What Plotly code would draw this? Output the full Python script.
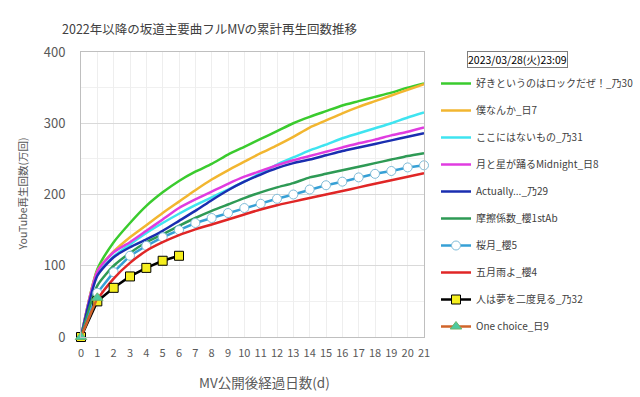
import plotly.graph_objects as go

days = list(range(22))

names = [
    "好きというのはロックだぜ！_乃30",
    "僕なんか_日7",
    "ここにはないもの_乃31",
    "月と星が踊るMidnight_日8",
    "Actually..._乃29",
    "摩擦係数_櫻1stAb",
    "桜月_櫻5",
    "五月雨よ_櫻4",
    "人は夢を二度見る_乃32",
    "One choice_日9",
]

suki = [0, 95, 133, 160, 184, 203, 219, 232, 243, 256, 267, 278, 289, 300, 309, 317, 325, 331, 337, 343, 350, 356]
bokunanka = [0, 93, 120, 140, 157, 174, 190, 206, 221, 234, 246, 258, 269, 281, 294, 304, 314, 323, 331, 339, 347, 355]
kokoni = [0, 88, 113, 130, 146, 160, 173, 185, 196, 207, 218, 230, 242, 252, 262, 270, 279, 286, 293, 300, 308, 315]
tsuki = [0, 92, 119, 133, 149, 165, 181, 193, 204, 215, 225, 233, 241, 248, 254, 260, 266, 272, 277, 283, 288, 294]
actually = [0, 86, 112, 126, 137, 149, 163, 177, 192, 206, 218, 228, 237, 244, 249, 255, 261, 266, 271, 276, 281, 286]
masatsu = [0, 72, 100, 118, 133, 144, 156, 167, 177, 186, 195, 203, 210, 216, 224, 229, 234, 239, 244, 249, 254, 258]
sakurazuki = [0, 62, 91, 114, 128, 140, 150, 160, 167, 174, 181, 187, 194, 200, 207, 213, 218, 224, 229, 233, 238, 241]
samidare = [0, 52, 82, 104, 121, 133, 143, 151, 158, 165, 172, 179, 185, 190, 195, 200, 205, 210, 215, 220, 225, 230]
hitoha = [0, 50, 69, 85, 97, 107, 114]
onechoice = [0, 55]

y_ticks = [0, 100, 200, 300, 400]
x_ticks = days

title_text = "2022年以降の坂道主要曲フルMVの累計再生回数推移"
date_text = "2023/03/28(火)23:09"
x_title = "MV公開後経過日数(d)"
y_title = "YouTube再生回数(万回)"

FONT = "Noto Sans CJK JP"

fig = go.Figure()

smooth = [
    (suki, "#3acb2e"),
    (bokunanka, "#f2b630"),
    (kokoni, "#3fe4f0"),
    (tsuki, "#e03ce0"),
    (actually, "#1a2eb0"),
    (masatsu, "#2e9a55"),
]
for i, (vals, col) in enumerate(smooth):
    fig.add_trace(go.Scatter(
        x=days[:len(vals)], y=vals, name=names[i], mode="lines",
        line=dict(color=col, width=2.5, shape="spline", smoothing=0.6),
        legendgroup=str(i), cliponaxis=False,
    ))

fig.add_trace(go.Scatter(
    x=days[:len(sakurazuki)], y=sakurazuki, name=names[6], mode="lines+markers",
    line=dict(color="#36a0d6", width=2.5),
    marker=dict(symbol="circle", size=9, color="white", line=dict(color="#80bcd8", width=1)),
    legendgroup="6", cliponaxis=False,
))
fig.add_trace(go.Scatter(
    x=days[:len(samidare)], y=samidare, name=names[7], mode="lines",
    line=dict(color="#e02626", width=2.5, shape="spline", smoothing=0.6),
    legendgroup="7", cliponaxis=False,
))
fig.add_trace(go.Scatter(
    x=days[:len(hitoha)], y=hitoha, name=names[8], mode="lines+markers",
    line=dict(color="#000000", width=2.5),
    marker=dict(symbol="square", size=9, color="#f5ee1e", line=dict(color="#000000", width=1)),
    legendgroup="8", cliponaxis=False,
))
fig.add_trace(go.Scatter(
    x=days[:len(onechoice)], y=onechoice, name=names[9], mode="lines+markers",
    line=dict(color="#d0642a", width=2.5),
    marker=dict(symbol="triangle-up", size=10, color="#4ccaa0", line=dict(color="#6cb46c", width=1)),
    legendgroup="9", cliponaxis=False,
))

fig.update_layout(
    width=640, height=397,
    margin=dict(l=81, r=216, t=52, b=60, autoexpand=False),
    paper_bgcolor="white", plot_bgcolor="white",
    font=dict(family=FONT, color="#595959"),
    showlegend=True,
    legend=dict(
        xref="container", yref="container", x=436 / 640, y=1 - 69 / 397,
        xanchor="left", yanchor="top",
        font=dict(size=10, color="#404040", family=FONT),
        tracegroupgap=8, itemwidth=30, bgcolor="rgba(0,0,0,0)",
        maxheight=330,
    ),
    xaxis=dict(
        range=[0, 21], tickvals=x_ticks, ticktext=[str(v) for v in x_ticks],
        showgrid=True, gridcolor="#eeeeee", gridwidth=1,
        showline=True, linecolor="#bfbfbf", linewidth=1, mirror=True,
        zeroline=False, ticks="", tickfont=dict(size=11, color="#595959"),
        ticklabelstandoff=6,
    ),
    yaxis=dict(
        range=[0, 400], tickvals=y_ticks,
        showgrid=True, gridcolor="#d9d9d9", gridwidth=1,
        minor=dict(dtick=50, showgrid=True, gridcolor="#f0f0f0"),
        showline=True, linecolor="#bfbfbf", linewidth=1, mirror=True,
        zeroline=False, ticks="", tickfont=dict(size=13, color="#595959"),
        ticklabelstandoff=12,
    ),
    annotations=[
        dict(text=title_text, xref="paper", yref="paper", x=(210 - 81) / 343, y=1 + (52 - 29) / 285,
             showarrow=False, xanchor="center", yanchor="middle",
             font=dict(size=12.5, color="#404040", family=FONT)),
        dict(text=date_text, xref="paper", yref="paper", x=(517 - 81) / 343, y=1 - (60 - 52) / 285,
             showarrow=False, xanchor="center", yanchor="middle",
             font=dict(size=10.5, color="#000000", family=FONT),
             bordercolor="#7f7f7f", borderwidth=1, borderpad=0, bgcolor="white"),
        dict(text=x_title, xref="paper", yref="paper", x=(264 - 81) / 343, y=-(381 - 336) / 285,
             showarrow=False, xanchor="center", yanchor="middle",
             font=dict(size=13.5, color="#595959", family=FONT)),
        dict(text=y_title, xref="paper", yref="paper", x=-(81 - 22) / 343, y=0.5, textangle=-90,
             showarrow=False, xanchor="center", yanchor="middle",
             font=dict(size=10.5, color="#595959", family=FONT)),
    ],
)

fig.write_html("out.html", config={"displayModeBar": False},
               post_script="document.body.style.margin='0';document.body.style.padding='0';")
